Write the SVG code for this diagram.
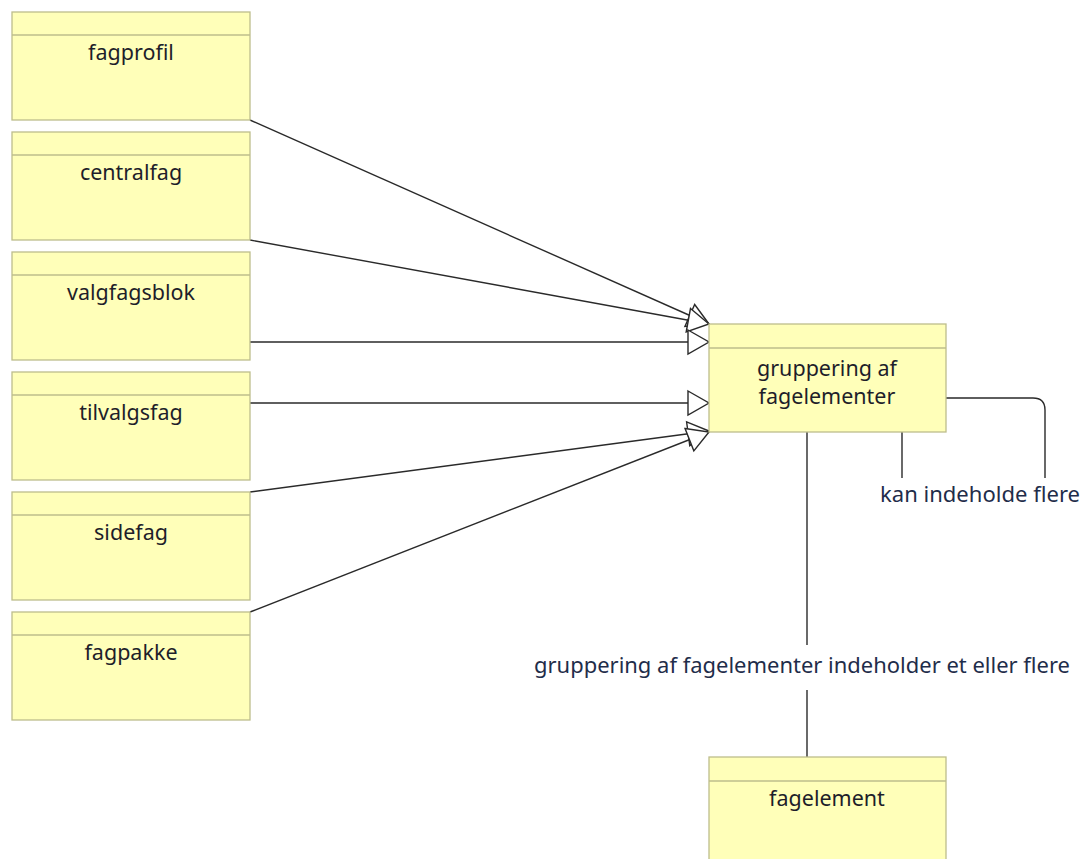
<svg xmlns="http://www.w3.org/2000/svg" width="1083" height="859" viewBox="0 0 1083 859">
  <style>
    .box { fill: #FFFFB9; stroke: #BEBE8C; stroke-width: 1.3; }
    .sep { stroke: #BEBE8C; stroke-width: 1.3; }
    .name { font-family: "Noto Sans", "Open Sans", sans-serif; font-size: 21.5px; fill: #1e1e2a; text-anchor: middle; }
    .lbl { font-family: "Noto Sans", "Open Sans", sans-serif; font-size: 22px; fill: #1f2d4a; }
    .edge { fill: none; stroke: #2a2a2a; stroke-width: 1.4; }
  </style>
  <defs>
    <marker id="gen" markerUnits="userSpaceOnUse" markerWidth="24" markerHeight="26" refX="21" refY="12" orient="auto" overflow="visible">
      <path d="M0,0 L21,12 L0,24 Z" fill="#ffffff" stroke="#2a2a2a" stroke-width="1.4"/>
    </marker>
  </defs>
  <rect width="1083" height="859" fill="#ffffff"/>

  <!-- connectors -->
  <g id="connectors">
    <line class="edge" x1="250" y1="120" x2="709" y2="324" marker-end="url(#gen)"/>
    <line class="edge" x1="250" y1="240" x2="709" y2="324" marker-end="url(#gen)"/>
    <line class="edge" x1="250" y1="342" x2="709" y2="342" marker-end="url(#gen)"/>
    <line class="edge" x1="250" y1="403" x2="709" y2="403" marker-end="url(#gen)"/>
    <line class="edge" x1="250" y1="492" x2="709" y2="431" marker-end="url(#gen)"/>
    <line class="edge" x1="250" y1="612" x2="709" y2="432" marker-end="url(#gen)"/>
    <!-- self association -->
    <path class="edge" d="M946,398 H1033 Q1045,398 1045,410 V478"/>
    <line class="edge" x1="902" y1="432" x2="902" y2="478"/>
    <text class="lbl" x="880" y="502" textLength="200" lengthAdjust="spacingAndGlyphs">kan indeholde flere</text>
    <!-- association to fagelement -->
    <line class="edge" x1="807" y1="432" x2="807" y2="645"/>
    <line class="edge" x1="807" y1="690" x2="807" y2="757"/>
    <text class="lbl" x="534" y="673" textLength="536" lengthAdjust="spacingAndGlyphs">gruppering af fagelementer indeholder et eller flere</text>
  </g>

  <g id="fagprofil">
    <rect class="box" x="12" y="12" width="238" height="108"/>
    <line class="sep" x1="12" y1="35" x2="250" y2="35"/>
    <text class="name" x="131" y="60">fagprofil</text>
  </g>
  <g id="centralfag">
    <rect class="box" x="12" y="132" width="238" height="108"/>
    <line class="sep" x1="12" y1="155" x2="250" y2="155"/>
    <text class="name" x="131" y="180">centralfag</text>
  </g>
  <g id="valgfagsblok">
    <rect class="box" x="12" y="252" width="238" height="108"/>
    <line class="sep" x1="12" y1="275" x2="250" y2="275"/>
    <text class="name" x="131" y="300">valgfagsblok</text>
  </g>
  <g id="tilvalgsfag">
    <rect class="box" x="12" y="372" width="238" height="108"/>
    <line class="sep" x1="12" y1="395" x2="250" y2="395"/>
    <text class="name" x="131" y="420">tilvalgsfag</text>
  </g>
  <g id="sidefag">
    <rect class="box" x="12" y="492" width="238" height="108"/>
    <line class="sep" x1="12" y1="515" x2="250" y2="515"/>
    <text class="name" x="131" y="540">sidefag</text>
  </g>
  <g id="fagpakke">
    <rect class="box" x="12" y="612" width="238" height="108"/>
    <line class="sep" x1="12" y1="635" x2="250" y2="635"/>
    <text class="name" x="131" y="660">fagpakke</text>
  </g>
  <g id="gruppering">
    <rect class="box" x="709" y="324" width="237" height="108"/>
    <line class="sep" x1="709" y1="348" x2="946" y2="348"/>
    <text class="name" x="827" y="376">gruppering af</text>
    <text class="name" x="827" y="404">fagelementer</text>
  </g>
  <g id="fagelement">
    <rect class="box" x="709" y="757" width="237" height="110"/>
    <line class="sep" x1="709" y1="781" x2="946" y2="781"/>
    <text class="name" x="827" y="806">fagelement</text>
  </g>
</svg>
